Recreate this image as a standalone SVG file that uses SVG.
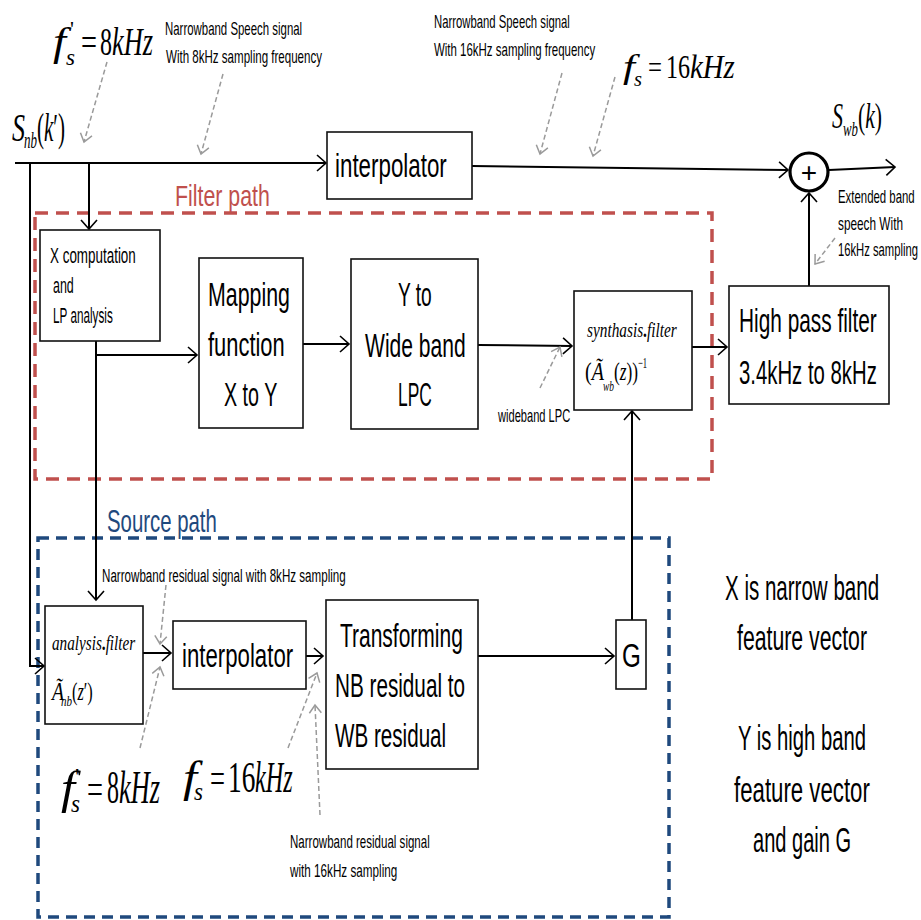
<svg xmlns="http://www.w3.org/2000/svg" width="921" height="920" viewBox="0 0 921 920">
<defs>
<style>
.bx{fill:#fff;stroke:#111;stroke-width:1.6}
.t{font-family:"Liberation Sans",Arial,sans-serif;fill:#000}
.m{font-family:"Liberation Serif","Times New Roman",serif;fill:#000}
.i{font-style:italic}
.c{fill:none;stroke:#000;stroke-width:2}
.g{fill:none;stroke:#9a9a9a;stroke-width:1.5;stroke-dasharray:5 3}
</style>
<marker id="a" markerUnits="userSpaceOnUse" markerWidth="20" markerHeight="20" viewBox="-12 -10 14 20" refX="0" refY="0" orient="auto">
<path d="M-9,-8 L0,0 L-9,8" fill="none" stroke="#000" stroke-width="1.6"/>
</marker>
<marker id="ga" markerUnits="userSpaceOnUse" markerWidth="20" markerHeight="20" viewBox="-12 -10 14 20" refX="0" refY="0" orient="auto">
<path d="M-8,-6 L0,0 L-8,6" fill="none" stroke="#9a9a9a" stroke-width="1.5"/>
</marker>
</defs>
<rect width="921" height="920" fill="#fff"/>

<g id="filter-path">
<rect x="35" y="213" width="677" height="266" fill="none" stroke="#C0504D" stroke-width="3.5" stroke-dasharray="13 8"/>
<text class="t" transform="translate(175,206) scale(0.65,1)" font-size="30" style="fill:#C0504D" textLength="146" lengthAdjust="spacingAndGlyphs">Filter path</text>
</g>
<g id="source-path">
<rect x="38" y="538" width="631" height="379" fill="none" stroke="#1F497D" stroke-width="3.5" stroke-dasharray="11 7"/>
<text class="t" transform="translate(107,532) scale(0.65,1)" font-size="32" style="fill:#1F497D" textLength="169" lengthAdjust="spacingAndGlyphs">Source path</text>
</g>

<g id="connectors">
<path class="c" d="M15,163 H326" stroke-width="2.6" marker-end="url(#a)"/>
<path class="c" d="M472,166 L788,170" stroke-width="2.4" marker-end="url(#a)"/>
<path class="c" d="M829,170 L895,167" stroke-width="2.4" marker-end="url(#a)"/>
<path class="c" d="M809,286 V193" marker-end="url(#a)"/>
<path class="c" d="M30,163 V666 H44" stroke="#444" stroke-width="1.3" marker-end="url(#a)"/>
<path class="c" d="M89,163 V229" stroke-width="1.6" marker-end="url(#a)"/>
<path class="c" d="M96,341 V600" stroke-width="1.8" marker-end="url(#a)"/>
<path class="c" d="M96,355 H197" marker-end="url(#a)"/>
<path class="c" d="M303,344 H349" marker-end="url(#a)"/>
<path class="c" d="M478,345 L572,346" marker-end="url(#a)"/>
<path class="c" d="M692,347 H727" marker-end="url(#a)"/>
<path class="c" d="M632,620 V411" stroke="#444" marker-end="url(#a)"/>
<path class="c" d="M143,653 H171" marker-end="url(#a)"/>
<path class="c" d="M306,656 H323" stroke-width="1.6" marker-end="url(#a)"/>
<path class="c" d="M478,656 H614" marker-end="url(#a)"/>
<path class="g" d="M107,62 L84,142" marker-end="url(#ga)"/>
<path class="g" d="M223,74 L201,154" marker-end="url(#ga)"/>
<path class="g" d="M562,73 L540,154" marker-end="url(#ga)"/>
<path class="g" d="M615,77 L593,156" marker-end="url(#ga)"/>
<path class="g" d="M835,238 L815,264" marker-end="url(#ga)"/>
<path class="g" d="M540,388 L560,347" marker-end="url(#ga)"/>
<path class="g" d="M166,585 L160,644" marker-end="url(#ga)"/>
<path class="g" d="M140,748 L160,667" marker-end="url(#ga)"/>
<path class="g" d="M288,748 L317,673" marker-end="url(#ga)"/>
<path class="g" d="M320,815 L315,705" marker-end="url(#ga)"/>
</g>

<g id="interpolator-top">
<rect class="bx" x="327" y="132" width="145" height="67"/>
<text class="t" transform="translate(335,177) scale(0.65,1)" font-size="33" textLength="172" lengthAdjust="spacingAndGlyphs">interpolator</text>
</g>
<g id="sum">
<circle cx="809" cy="172" r="19" fill="#fff" stroke="#000" stroke-width="3.2"/>
<text class="t" x="809" y="182" font-size="28" text-anchor="middle">+</text>
</g>
<g id="x-computation">
<rect class="bx" x="40" y="230" width="120" height="111"/>
<text class="t" transform="translate(50,263) scale(0.65,1)" font-size="22" textLength="132" lengthAdjust="spacingAndGlyphs">X computation</text>
<text class="t" transform="translate(53,293) scale(0.65,1)" font-size="22" textLength="32" lengthAdjust="spacingAndGlyphs">and</text>
<text class="t" transform="translate(53,323) scale(0.65,1)" font-size="22" textLength="92" lengthAdjust="spacingAndGlyphs">LP analysis</text>
</g>
<g id="mapping">
<rect class="bx" x="199" y="258" width="104" height="170"/>
<text class="t" transform="translate(208,306) scale(0.65,1)" font-size="33" textLength="126" lengthAdjust="spacingAndGlyphs">Mapping</text>
<text class="t" transform="translate(208,356) scale(0.65,1)" font-size="33" textLength="118" lengthAdjust="spacingAndGlyphs">function</text>
<text class="t" transform="translate(224,406) scale(0.65,1)" font-size="33" textLength="82" lengthAdjust="spacingAndGlyphs">X to Y</text>
</g>
<g id="y-to-wb">
<rect class="bx" x="351" y="259" width="127" height="170"/>
<text class="t" transform="translate(398,306) scale(0.65,1)" font-size="33" textLength="52" lengthAdjust="spacingAndGlyphs">Y to</text>
<text class="t" transform="translate(365,357) scale(0.65,1)" font-size="33" textLength="155" lengthAdjust="spacingAndGlyphs">Wide band</text>
<text class="t" transform="translate(398,406) scale(0.65,1)" font-size="33" textLength="52" lengthAdjust="spacingAndGlyphs">LPC</text>
</g>
<g id="synthesis">
<rect class="bx" x="574" y="291" width="118" height="119"/>
<text class="m i" transform="translate(587,337) scale(0.65,1)" font-size="22" textLength="138" lengthAdjust="spacingAndGlyphs">synthasis<tspan font-style="normal" font-weight="bold">.</tspan>filter</text>
<text class="m" transform="translate(585,380) scale(0.65,1)" font-size="26" textLength="29" lengthAdjust="spacingAndGlyphs">(<tspan font-style="italic">Ã</tspan></text>
<text class="m i" transform="translate(603,391) scale(0.65,1)" font-size="15" textLength="17" lengthAdjust="spacingAndGlyphs">wb</text>
<text class="m" transform="translate(614,380) scale(0.65,1)" font-size="26" textLength="37" lengthAdjust="spacingAndGlyphs">(<tspan font-style="italic">z</tspan>))</text>
<text class="m" transform="translate(638,368) scale(0.65,1)" font-size="15" textLength="14" lengthAdjust="spacingAndGlyphs">−1</text>
</g>
<g id="hpf">
<rect class="bx" x="729" y="286" width="160" height="118"/>
<text class="t" transform="translate(739,332) scale(0.65,1)" font-size="33" textLength="212" lengthAdjust="spacingAndGlyphs">High pass filter</text>
<text class="t" transform="translate(739,384) scale(0.65,1)" font-size="33" textLength="212" lengthAdjust="spacingAndGlyphs">3.4kHz to 8kHz</text>
</g>
<g id="analysis">
<rect class="bx" x="45" y="606" width="98" height="118"/>
<text class="m i" transform="translate(52,650) scale(0.65,1)" font-size="22" textLength="128" lengthAdjust="spacingAndGlyphs">analysis<tspan font-style="normal" font-weight="bold">.</tspan>filter</text>
<text class="m i" x="52" y="700" font-size="26" textLength="12" lengthAdjust="spacingAndGlyphs">Ã</text>
<text class="m i" transform="translate(61,706) scale(0.65,1)" font-size="14" textLength="17" lengthAdjust="spacingAndGlyphs">nb</text>
<text class="m" transform="translate(72,700) scale(0.65,1)" font-size="26" textLength="32" lengthAdjust="spacingAndGlyphs">(<tspan font-style="italic">z</tspan>′)</text>
</g>
<g id="interpolator-bottom">
<rect class="bx" x="173" y="621" width="133" height="68"/>
<text class="t" transform="translate(182,667) scale(0.65,1)" font-size="33" textLength="171" lengthAdjust="spacingAndGlyphs">interpolator</text>
</g>
<g id="transforming">
<rect class="bx" x="326" y="600" width="152" height="169"/>
<text class="t" transform="translate(340,647) scale(0.65,1)" font-size="34" textLength="189" lengthAdjust="spacingAndGlyphs">Transforming</text>
<text class="t" transform="translate(335,697) scale(0.65,1)" font-size="34" textLength="200" lengthAdjust="spacingAndGlyphs">NB residual to</text>
<text class="t" transform="translate(335,747) scale(0.65,1)" font-size="34" textLength="171" lengthAdjust="spacingAndGlyphs">WB residual</text>
</g>
<g id="gain">
<rect class="bx" x="616" y="620" width="30" height="69"/>
<text class="t" transform="translate(622,667) scale(0.65,1)" font-size="33" textLength="29" lengthAdjust="spacingAndGlyphs">G</text>
</g>

<g id="labels">
<text class="m i" x="53" y="55" font-size="40" textLength="13" lengthAdjust="spacingAndGlyphs">f</text>
<text class="m" x="70" y="36" font-size="22">'</text>
<text class="m i" x="66" y="65" font-size="24" textLength="9" lengthAdjust="spacingAndGlyphs">s</text>
<text class="m" x="81" y="55" font-size="38" textLength="16" lengthAdjust="spacingAndGlyphs">=</text>
<text class="m" x="100" y="55" font-size="40" textLength="12" lengthAdjust="spacingAndGlyphs">8</text>
<text class="m i" transform="translate(112,55) scale(0.65,1)" font-size="40" textLength="63" lengthAdjust="spacingAndGlyphs">kHz</text>
<text class="t" transform="translate(165,35) scale(0.65,1)" font-size="18" textLength="211" lengthAdjust="spacingAndGlyphs">Narrowband Speech signal</text>
<text class="t" transform="translate(166,63) scale(0.65,1)" font-size="18" textLength="240" lengthAdjust="spacingAndGlyphs">With 8kHz sampling frequency</text>
<text class="t" transform="translate(434,28) scale(0.65,1)" font-size="18" textLength="209" lengthAdjust="spacingAndGlyphs">Narrowband Speech signal</text>
<text class="t" transform="translate(434,56) scale(0.65,1)" font-size="18" textLength="248" lengthAdjust="spacingAndGlyphs">With 16kHz sampling frequency</text>
<text class="m i" x="623" y="78" font-size="34" textLength="12" lengthAdjust="spacingAndGlyphs">f</text>
<text class="m i" x="634" y="86" font-size="22" textLength="8" lengthAdjust="spacingAndGlyphs">s</text>
<text class="m" x="648" y="78" font-size="32" textLength="14" lengthAdjust="spacingAndGlyphs">=</text>
<text class="m" transform="translate(666,78) scale(0.65,1)" font-size="34" textLength="37" lengthAdjust="spacingAndGlyphs">16</text>
<text class="m i" transform="translate(690,78) scale(0.65,1)" font-size="34" textLength="69" lengthAdjust="spacingAndGlyphs">kHz</text>
<text class="m i" x="12" y="141" font-size="40" textLength="13" lengthAdjust="spacingAndGlyphs">S</text>
<text class="m i" transform="translate(24,148) scale(0.65,1)" font-size="24" textLength="20" lengthAdjust="spacingAndGlyphs">nb</text>
<text class="m" transform="translate(37,141) scale(0.65,1)" font-size="40" textLength="43" lengthAdjust="spacingAndGlyphs">(<tspan font-style="italic">k</tspan>′)</text>
<text class="m i" x="832" y="128" font-size="36" textLength="11" lengthAdjust="spacingAndGlyphs">S</text>
<text class="m i" transform="translate(843,136) scale(0.65,1)" font-size="22" textLength="23" lengthAdjust="spacingAndGlyphs">wb</text>
<text class="m" transform="translate(858,128) scale(0.65,1)" font-size="36" textLength="37" lengthAdjust="spacingAndGlyphs">(<tspan font-style="italic">k</tspan>)</text>
<text class="t" transform="translate(838,203) scale(0.65,1)" font-size="18" textLength="118" lengthAdjust="spacingAndGlyphs">Extended band</text>
<text class="t" transform="translate(838,230) scale(0.65,1)" font-size="18" textLength="100" lengthAdjust="spacingAndGlyphs">speech With</text>
<text class="t" transform="translate(838,256) scale(0.65,1)" font-size="18" textLength="123" lengthAdjust="spacingAndGlyphs">16kHz sampling</text>
<text class="t" transform="translate(498,422) scale(0.65,1)" font-size="18" textLength="111" lengthAdjust="spacingAndGlyphs">wideband LPC</text>
<text class="t" transform="translate(102,582) scale(0.65,1)" font-size="19" textLength="375" lengthAdjust="spacingAndGlyphs">Narrowband residual signal with 8kHz sampling</text>
<text class="m i" x="61" y="803" font-size="46" textLength="14" lengthAdjust="spacingAndGlyphs">f</text>
<text class="m" x="75" y="784" font-size="24">'</text>
<text class="m i" x="71" y="812" font-size="26" textLength="9" lengthAdjust="spacingAndGlyphs">s</text>
<text class="m" x="87" y="803" font-size="42" textLength="16" lengthAdjust="spacingAndGlyphs">=</text>
<text class="m" x="107" y="803" font-size="46" textLength="12" lengthAdjust="spacingAndGlyphs">8</text>
<text class="m i" transform="translate(119,803) scale(0.65,1)" font-size="46" textLength="63" lengthAdjust="spacingAndGlyphs">kHz</text>
<text class="m i" x="183" y="792" font-size="44" textLength="14" lengthAdjust="spacingAndGlyphs">f</text>
<text class="m i" x="194" y="800" font-size="26" textLength="9" lengthAdjust="spacingAndGlyphs">s</text>
<text class="m" x="210" y="792" font-size="42" textLength="15" lengthAdjust="spacingAndGlyphs">=</text>
<text class="m" transform="translate(228,792) scale(0.65,1)" font-size="44" textLength="42" lengthAdjust="spacingAndGlyphs">16</text>
<text class="m i" transform="translate(255,792) scale(0.65,1)" font-size="44" textLength="58" lengthAdjust="spacingAndGlyphs">kHz</text>
<text class="t" transform="translate(290,848) scale(0.65,1)" font-size="18" textLength="215" lengthAdjust="spacingAndGlyphs">Narrowband residual signal</text>
<text class="t" transform="translate(290,877) scale(0.65,1)" font-size="18" textLength="165" lengthAdjust="spacingAndGlyphs">with 16kHz sampling</text>
<text class="t" transform="translate(725,600) scale(0.65,1)" font-size="35" textLength="237" lengthAdjust="spacingAndGlyphs">X is narrow band</text>
<text class="t" transform="translate(737,650) scale(0.65,1)" font-size="35" textLength="200" lengthAdjust="spacingAndGlyphs">feature vector</text>
<text class="t" transform="translate(738,750) scale(0.65,1)" font-size="35" textLength="197" lengthAdjust="spacingAndGlyphs">Y is high band</text>
<text class="t" transform="translate(734,802) scale(0.65,1)" font-size="35" textLength="209" lengthAdjust="spacingAndGlyphs">feature  vector</text>
<text class="t" transform="translate(753,852) scale(0.65,1)" font-size="35" textLength="151" lengthAdjust="spacingAndGlyphs">and gain G</text>
</g>
</svg>
